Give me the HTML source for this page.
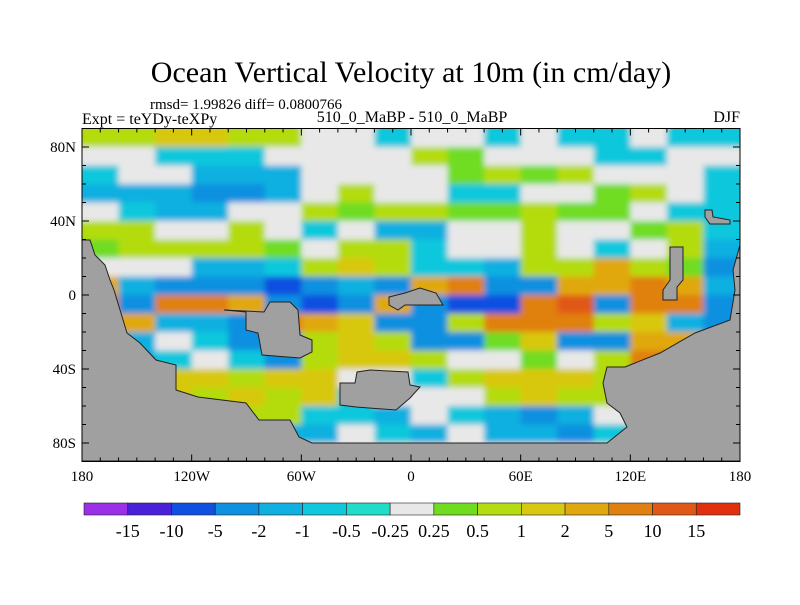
<!DOCTYPE html>
<html><head><meta charset="utf-8"><style>
body{margin:0;background:#fff}
svg text{font-family:"Liberation Serif",serif;fill:#000}
</style></head><body>
<svg id="c" width="800" height="600" xmlns="http://www.w3.org/2000/svg">
<defs>
<filter id="soft" x="-5%" y="-5%" width="110%" height="110%"><feGaussianBlur stdDeviation="3"/></filter>
<clipPath id="frameclip"><rect x="82" y="128.5" width="658" height="333"/></clipPath>
</defs>
<text x="411" y="82" font-size="30" text-anchor="middle">Ocean Vertical Velocity at 10m (in cm/day)</text>
<text x="150" y="109" font-size="15">rmsd= 1.99826 diff= 0.0800766</text>
<text x="82" y="124" font-size="16">Expt = teYDy-teXPy</text>
<text x="412" y="122" font-size="16" text-anchor="middle">510_0_MaBP - 510_0_MaBP</text>
<text x="740" y="122" font-size="16" text-anchor="end">DJF</text>
<g clip-path="url(#frameclip)"><g id="map" filter="url(#soft)"></g></g>
<g id="land"></g>
<g id="axes"></g>
<g id="cbar"></g>
</svg>
<script>
const colors=["#9a30e8","#4a20d8","#1050e0","#1090e0","#10b0e0","#10c8dc","#20dcc8","#e8e8e8","#70dc20","#b4dc10","#d8c810","#e0a810","#e08010","#e05818","#e03010"];
const levelLabels=["-15","-10","-5","-2","-1","-0.5","-0.25","0.25","0.5","1","2","5","10","15"];
const lonTicks=[-180,-120,-60,0,60,120,180];
const lonTickLabels=["180","120W","60W","0","60E","120E","180"];
const latTicks=[80,40,0,-40,-80];
const latTickLabels=["80N","40N","0","40S","80S"];
// grid of colour-level indices: rows 90N→90S by 10°, cols 180W→180E by 20°
const field=[
[9,9,10,10,9,9,7,7,5,7,7,5,7,5,5,7,5,5],
[7,7,5,5,5,7,7,7,7,9,8,7,7,7,5,5,7,7],
[5,7,7,4,4,4,7,7,7,7,8,9,8,9,7,7,7,5],
[4,4,4,3,3,4,7,9,7,7,5,5,7,7,8,9,7,5],
[7,5,4,4,7,7,9,8,9,9,8,8,9,8,8,7,5,5],
[9,9,7,7,9,7,5,7,4,4,7,7,9,7,7,8,9,5],
[8,9,9,9,9,8,7,9,9,5,7,7,9,7,5,7,9,4],
[7,7,7,4,4,5,9,10,9,5,5,4,9,9,11,9,8,3],
[11,4,3,3,3,2,3,4,3,11,12,3,3,11,11,12,11,4],
[12,3,12,12,11,3,2,3,11,3,2,2,12,13,3,12,12,3],
[4,11,4,4,3,12,11,10,3,3,9,12,12,12,9,10,4,3],
[3,4,7,5,3,3,9,10,9,3,3,8,10,3,3,11,11,3],
[4,4,5,7,5,3,9,10,10,9,7,7,8,7,9,12,9,4],
[11,11,10,10,9,10,10,7,7,5,9,10,10,10,9,5,8,9],
[11,12,10,9,10,9,10,5,7,7,7,9,10,9,9,3,8,9],
[7,5,4,4,9,9,5,5,4,7,5,4,3,4,7,5,9,9],
[4,7,4,5,4,4,4,7,5,4,7,4,4,3,5,9,5,4],
[7,7,7,7,7,7,7,7,7,7,7,7,7,7,7,7,7,7]
];
const X0=82,X1=740,Y0=128.5,Y1=461.5;
const xs=lon=>X0+(lon+180)/360*(X1-X0);
const ys=lat=>Y0+(90-lat)/180*(Y1-Y0);
const NS="http://www.w3.org/2000/svg";
function mk(tag,attrs,parent){const e=document.createElementNS(NS,tag);for(const k in attrs)e.setAttribute(k,attrs[k]);parent.appendChild(e);return e;}
const map=document.getElementById('map');
field.forEach((row,r)=>row.forEach((v,c)=>{
  const lon=-180+c*20,lat=90-r*10;
  const e=mk('rect',{x:xs(lon)-(c===0?8:0),y:ys(lat)-(r===0?8:0),width:xs(lon+20)-xs(lon)+0.5+(c===0||c===17?8:0),height:ys(lat-10)-ys(lat)+0.5+(r===0||r===17?8:0),fill:colors[v]},map);
  
  
}));
const land=document.getElementById('land');
const polys=[
"82,240 90,240 95,255 105,265 110,280 114,290 127,333 140,343 156,360 176,365 176,390 198,397 246,403 259,420 290,420 299,437 312,443 607,443 627,427 620,413 607,403 603,383 607,367 625,367 660,353 695,333 730,320 735,290 733,270 740,245 740,461 82,461",
"224,310 246,312 246,330 258,333 262,355 300,358 312,352 312,340 300,335 298,310 290,302 270,302 264,312",
"340,383 355,383 357,372 370,370 408,372 410,385 420,387 410,398 396,410 356,407 340,405",
"389,297 405,293 420,288 436,293 443,305 405,305 398,310 389,305",
"670,247 683,247 683,280 677,287 677,300 663,300 663,290 670,280",
"705,210 712,210 713,217 730,220 730,224 710,224 705,217"];
polys.forEach(p=>{const e=mk('polygon',{points:p,fill:'#a0a0a0',stroke:'#222','stroke-width':1},land);

});
const ax=document.getElementById('axes');
mk('rect',{x:X0,y:Y0,width:X1-X0,height:Y1-Y0,fill:'none',stroke:'#000','stroke-width':1},ax);
for(let lon=-180;lon<=180;lon+=10){const x=xs(lon),L=lon%60===0?7:4;
 mk('line',{x1:x,y1:Y0,x2:x,y2:Y0+L,stroke:'#000'},ax);mk('line',{x1:x,y1:Y1,x2:x,y2:Y1-L,stroke:'#000'},ax);}
for(let lat=-90;lat<=90;lat+=10){const y=ys(lat),L=lat%40===0?7:4;
 mk('line',{x1:X0,y1:y,x2:X0+L,y2:y,stroke:'#000'},ax);mk('line',{x1:X1,y1:y,x2:X1-L,y2:y,stroke:'#000'},ax);}
lonTicks.forEach((v,i)=>{const t=mk('text',{x:xs(v),y:481,'font-size':15,'text-anchor':'middle'},ax);t.textContent=lonTickLabels[i];

});
latTicks.forEach((v,i)=>{const t=mk('text',{x:76,y:ys(v)+5,'font-size':15,'text-anchor':'end'},ax);t.textContent=latTickLabels[i];

});
const cb=document.getElementById('cbar');
const CB0=84,CB1=740,bw=(CB1-CB0)/colors.length;
colors.forEach((c,i)=>{const e=mk('rect',{x:CB0+i*bw,y:503,width:bw,height:12,fill:c,stroke:'#222','stroke-width':0.6},cb);

});
levelLabels.forEach((l,i)=>{const t=mk('text',{x:CB0+(i+1)*bw,y:537,'font-size':18,'text-anchor':'middle'},cb);t.textContent=l;

});
</script>
</body></html>
